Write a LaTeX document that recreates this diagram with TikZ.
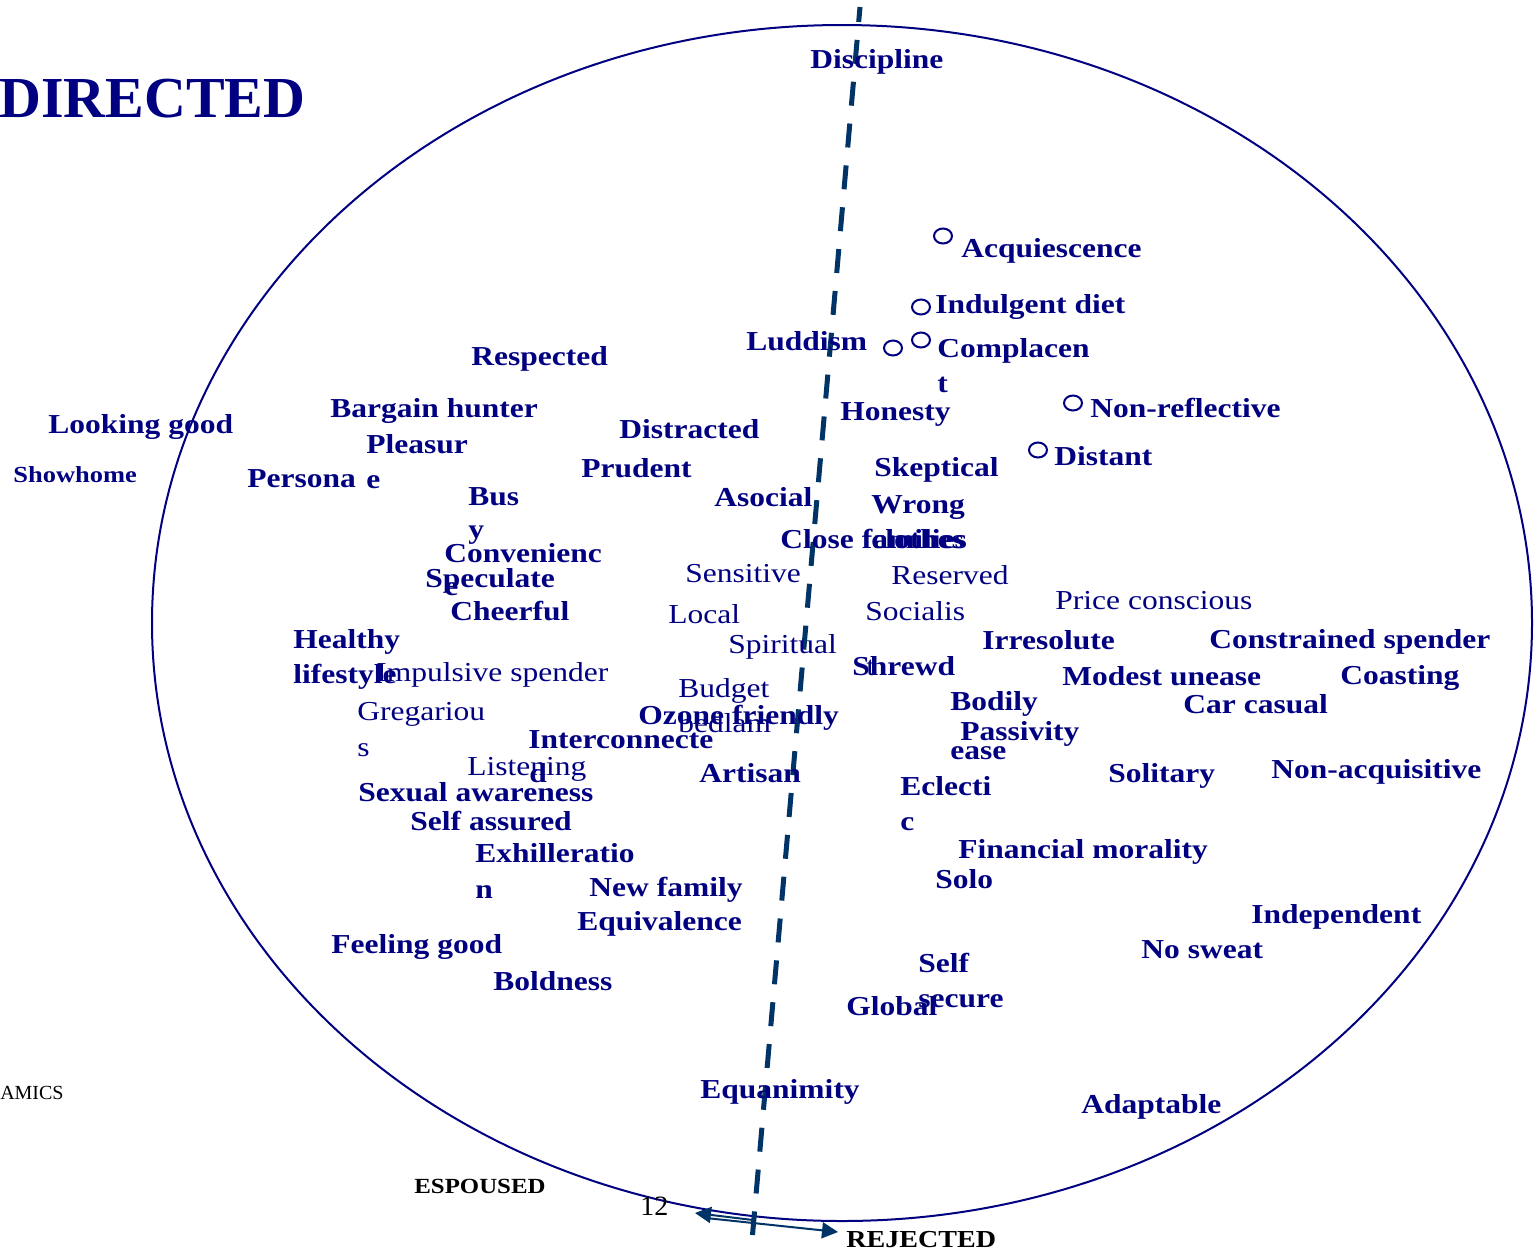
\documentclass[tikz,border=0pt]{standalone}
\usepackage{fontspec}
\setmainfont[FakeStretch=1.15]{Liberation Serif}
\newfontfamily\plainserif{Liberation Serif}
\usetikzlibrary{positioning,arrows.meta,shapes.geometric}
\definecolor{navytext}{RGB}{0,0,128}
\definecolor{axisblue}{RGB}{0,51,102}
\tikzset{
	every picture/.style={/utils/exec={\rmfamily}},
	trait/.style={anchor=base west, inner sep=0, text=navytext, font=\fontsize{13.7}{16}\selectfont\bfseries},
	softtrait/.style={trait, font=\fontsize{13.7}{16}\selectfont},
	pole/.style={anchor=base west, inner sep=0, text=black, font=\fontsize{12.2}{14}\selectfont\bfseries},
	ring/.style={ellipse, draw=navytext, line width=1pt, minimum width=9pt, minimum height=7.5pt, inner sep=0},
}

\begin{document}
\begin{tikzpicture}[x=0.5pt, y=-0.5pt]
	\useasboundingbox (0,0) rectangle (1538,1255);

	% big ellipse and the dashed divide
	\draw[navytext, line width=1pt] (842,623) ellipse [x radius=345pt, y radius=299pt];
	\coordinate (axistop) at (860,7);
	\coordinate (axisbottom) at (752.5,1235);
	\draw[axisblue, line width=2.5pt, dash pattern=on 12pt off 9pt, dash phase=4.5pt] (axistop) -- (axisbottom);

	\node[anchor=base east, inner sep=0, text=navytext, font=\plainserif\fontsize{29}{32}\selectfont\bfseries] (title) at (306,117) {DIRECTED};
	\node[anchor=base east, inner sep=0, font=\plainserif\fontsize{10}{12}\selectfont] (footer) at (64,1099) {AMICS};

	% top half
	\node[trait] (discipline) at (810,68) {Discipline};
	\node[trait] (acquiescence) at (961,257) {Acquiescence};
	\node[trait] (indulgent) at (935,313) {Indulgent diet};
	\node[trait] (luddism) at (746,350) {Luddism};
	\node[trait] (complacent1) at (937,357) {Complacen};
	\node[trait] (complacent2) at (937,392) {t};
	\node[trait] (respected) at (471,365) {Respected};
	\node[trait] (bargain) at (330,417) {Bargain hunter};
	\node[trait] (honesty) at (840,420) {Honesty};
	\node[trait] (nonreflective) at (1090,417) {Non-reflective};
	\node[trait] (looking) at (48,433) {Looking good};
	\node[trait] (distracted) at (619,438) {Distracted};
	\node[trait] (pleasure1) at (366,453) {Pleasur};
	\node[trait] (pleasure2) at (366,488) {e};
	\node[trait] (distant) at (1054,465) {Distant};
	\node[trait] (prudent) at (581,477) {Prudent};
	\node[trait] (skeptical) at (874,476) {Skeptical};
	\node[trait, font=\fontsize{11.5}{13}\selectfont\bfseries] (showhome) at (13,482) {Showhome};
	\node[trait] (persona) at (247,487) {Persona};
	\node[trait] (busy1) at (468,505) {Bus};
	\node[trait] (busy2) at (468,538) {y};
	\node[trait] (asocial) at (714,506) {Asocial};
	\node[trait] (wrong1) at (871,513) {Wrong};
	\node[trait] (wrong2) at (871,548) {clothes};
	\node[trait] (closefam) at (780,548) {Close families};
	\node[trait] (convenience1) at (444,562) {Convenienc};
	\node[trait] (convenience2) at (444,595) {e};
	\node[trait] (speculate) at (425,587) {Speculate};
	\node[trait] (cheerful) at (450,620) {Cheerful};

	% markers beside the upper right traits
	\node[ring] (ringacq) at (943,236) {};
	\node[ring] (ringind) at (921,307) {};
	\node[ring] (ringlud) at (893,348) {};
	\node[ring] (ringcom) at (921,340) {};
	\node[ring] (ringnon) at (1073,403) {};
	\node[ring] (ringdis) at (1038,450) {};

	% middle band
	\node[softtrait] (sensitive) at (685,582) {Sensitive};
	\node[softtrait] (reserved) at (891,584) {Reserved};
	\node[softtrait] (price) at (1055,609) {Price conscious};
	\node[softtrait] (local) at (668,623) {Local};
	\node[softtrait] (socialist1) at (865,620) {Socialis};
	\node[softtrait] (socialist2) at (866,675) {t};
	\node[softtrait] (spiritual) at (728,653) {Spiritual};
	\node[trait] (healthy1) at (293,648) {Healthy};
	\node[trait] (healthy2) at (293,683) {lifestyle};
	\node[softtrait] (impulsive) at (376,681) {Impulsive spender};
	\node[trait] (irresolute) at (982,649) {Irresolute};
	\node[trait] (constrained) at (1209,648) {Constrained spender};
	\node[trait] (shrewd) at (852,675) {Shrewd};
	\node[trait] (modest) at (1062,685) {Modest unease};
	\node[trait] (coasting) at (1340,684) {Coasting};
	\node[softtrait] (budget1) at (678,697) {Budget};
	\node[softtrait] (budget2) at (678,732) {bedlam};
	\node[trait] (ozone) at (638,724) {Ozone friendly};
	\node[trait] (bodily1) at (950,710) {Bodily};
	\node[trait] (bodily2) at (950,759) {ease};
	\node[trait] (carcasual) at (1183,713) {Car casual};
	\node[softtrait] (gregarious1) at (357,720) {Gregariou};
	\node[softtrait] (gregarious2) at (357,756) {s};
	\node[trait] (passivity) at (960,740) {Passivity};
	\node[trait] (inter1) at (528,748) {Interconnecte};
	\node[trait] (inter2) at (529,782) {d};
	\node[softtrait] (listening) at (467,775) {Listening};
	\node[trait] (artisan) at (699,782) {Artisan};
	\node[trait] (solitary) at (1108,782) {Solitary};
	\node[trait] (nonacq) at (1271,778) {Non-acquisitive};
	\node[trait] (eclectic1) at (900,795) {Eclecti};
	\node[trait] (eclectic2) at (900,830) {c};

	% lower half
	\node[trait] (sexual) at (358,801) {Sexual awareness};
	\node[trait] (assured) at (410,830) {Self assured};
	\node[trait] (financial) at (958,858) {Financial morality};
	\node[trait] (exhil1) at (475,862) {Exhilleratio};
	\node[trait] (exhil2) at (475,898) {n};
	\node[trait] (solo) at (935,888) {Solo};
	\node[trait] (newfamily) at (589,896) {New family};
	\node[trait] (independent) at (1251,923) {Independent};
	\node[trait] (equivalence) at (577,930) {Equivalence};
	\node[trait] (feeling) at (331,953) {Feeling good};
	\node[trait] (nosweat) at (1141,958) {No sweat};
	\node[trait] (secure1) at (918,972) {Self};
	\node[trait] (secure2) at (918,1007) {secure};
	\node[trait] (boldness) at (493,990) {Boldness};
	\node[trait] (global) at (846,1015) {Global};
	\node[trait] (equanimity) at (700,1098) {Equanimity};
	\node[trait] (adaptable) at (1081,1113) {Adaptable};

	% espoused / rejected
	\node[pole, font=\fontsize{10.8}{13}\selectfont\bfseries] (espoused) at (414,1193) {ESPOUSED};
	\node[anchor=base west, inner sep=0, font=\plainserif\fontsize{14}{16}\selectfont] (pagenum) at (640,1215) {12};
	\node[pole] (rejected) at (846,1247) {REJECTED};
	\coordinate (leftfrom) at (753,1220);
	\coordinate (lefttip) at (695,1213);
	\coordinate (rightfrom) at (706,1218);
	\coordinate (righttip) at (838,1232);
	\draw[axisblue, line width=1pt, -{Triangle[length=8pt,width=8pt]}] (leftfrom) -- (lefttip);
	\draw[axisblue, line width=1pt, -{Triangle[length=8pt,width=8pt]}] (rightfrom) -- (righttip);
\end{tikzpicture}
\end{document}
